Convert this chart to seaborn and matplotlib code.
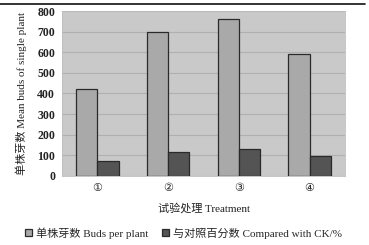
import pandas as pd
import seaborn as sns
import matplotlib.pyplot as plt

treatments = ['①', '②', '③', '④']
buds_per_plant = [420, 700, 760, 590]
compared_ck = [70, 115, 130, 95]
series_names = ['单株芽数 Buds per plant', '与对照百分数 Compared with CK/%']

df = pd.DataFrame({
    'Treatment': treatments * 2,
    'value': buds_per_plant + compared_ck,
    'series': [series_names[0]] * 4 + [series_names[1]] * 4,
})

sns.set_style('white')
plt.rcParams['font.family'] = ['Liberation Serif', 'Noto Sans CJK SC']
plt.rcParams['axes.unicode_minus'] = False

fig = plt.figure(figsize=(3.69, 2.45), dpi=100)
ax = fig.add_axes([0.168, 0.282, 0.767, 0.673])
ax.set_facecolor('#c9c9c9')

sns.barplot(data=df, x='Treatment', y='value', hue='series',
            palette=['#a9a9a9', '#545454'], edgecolor='#2a2a2a', linewidth=0.9,
            width=0.6, gap=0, ax=ax, legend=True)

ax.set_ylim(0, 800)
ax.set_yticks(range(0, 801, 100))
ax.yaxis.grid(True, color='#b0b0b0', linewidth=0.8)
ax.set_axisbelow(True)
for s in ax.spines.values():
    s.set_color('#bdbdbd')
    s.set_linewidth(0.6)
ax.tick_params(axis='both', length=0, labelsize=8.5, colors='#222222', pad=5)
for lab in ax.get_yticklabels():
    lab.set_fontweight('bold')
for lab in ax.get_xticklabels():
    lab.set_family(['DejaVu Sans'])
    lab.set_fontsize(8)
ax.set_xlabel('试验处理 Treatment', fontsize=8, labelpad=7, color='#222222')
ax.set_ylabel('单株芽数 Mean buds of single plant', fontsize=8, labelpad=7, color='#222222')

leg = ax.legend(loc='upper center', bbox_to_anchor=(0.43, -0.285), ncol=2, frameon=False,
                fontsize=8, handlelength=0.6, handleheight=0.6, handletextpad=0.4,
                columnspacing=1.2, borderaxespad=0)

fig.add_artist(plt.Line2D([0.0, 0.99], [0.984, 0.984], color='#111111', linewidth=1.2))

fig.savefig('out.png', dpi=100)
